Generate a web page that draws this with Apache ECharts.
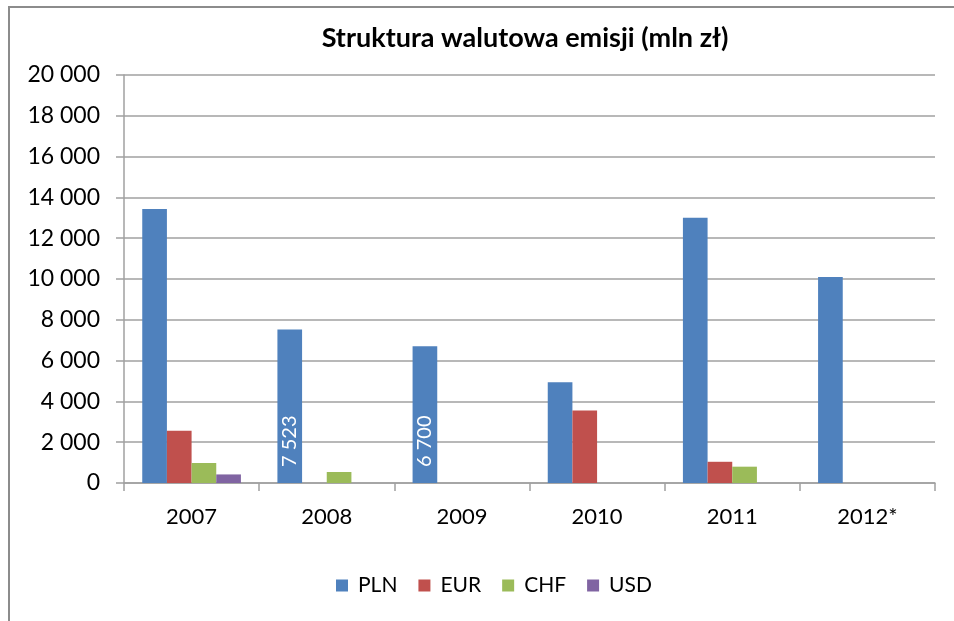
<!DOCTYPE html>
<html>
<head>
<meta charset="utf-8">
<script src="https://cdn.jsdelivr.net/npm/echarts@6/dist/echarts.min.js"></script>
<style>
  html, body { margin: 0; padding: 0; background: #ffffff; }
  #chart { width: 954px; height: 621px; }
</style>
</head>
<body>
<div id="chart"></div>
<script>
const years = ['2007', '2008', '2009', '2010', '2011', '2012*'];
const pln = [13430, 7523, 6700, 4940, 13000, 10100];
const eur = [2560, '-', '-', 3560, 1040, '-'];
const chf = [980, 540, '-', '-', 800, '-'];
const usd = [420, '-', '-', '-', '-', '-'];
const labelled = ['2008', '2009'];

function fmt(v) {
  return String(v).replace(/\B(?=(\d{3})+(?!\d))/g, ' ');
}

let font = 'Lato';

function plnData() {
  return pln.map((v, i) => {
    if (labelled.indexOf(years[i]) < 0) return v;
    return {
      value: v,
      label: {
        show: true,
        position: 'insideBottom',
        rotate: 90,
        align: 'left',
        verticalAlign: 'middle',
        distance: 16,
        color: '#ffffff',
        fontFamily: font,
        fontSize: 20,
        formatter: (p) => fmt(p.value)
      }
    };
  });
}

let chart = echarts.init(document.querySelector('#chart'), null, { renderer: 'canvas' });

let option = {
  backgroundColor: '#ffffff',
  animation: false,
  graphic: [{
    type: 'polyline',
    shape: { points: [[9, 640], [9, 7], [960, 7]] },
    style: { stroke: '#8c8c8c', lineWidth: 2, fill: null }
  }],
  title: {
    text: 'Struktura walutowa emisji (mln zł)',
    left: 520,
    textAlign: 'center',
    top: 20,
    textStyle: { fontFamily: font, fontWeight: 'bold', fontSize: 27, color: '#000000' }
  },
  color: ['#4f81bd', '#c0504d', '#9bbb59', '#8064a2'],
  legend: {
    left: 331,
    top: 570,
    itemWidth: 12,
    itemHeight: 12,
    itemGap: 21,
    icon: 'rect',
    textStyle: { fontFamily: font, fontSize: 21, color: '#000000', padding: [0, 0, 0, 5] },
    data: ['PLN', 'EUR', 'CHF', 'USD']
  },
  grid: { left: 124, right: 19, top: 75, bottom: 138 },
  xAxis: {
    type: 'category',
    data: years,
    axisLine: { lineStyle: { color: '#a0a0a0', width: 1.5 } },
    axisTick: { show: true, length: 8, alignWithLabel: false, lineStyle: { color: '#a0a0a0', width: 1.5 } },
    axisLabel: { fontFamily: font, fontSize: 22, color: '#000000', margin: 23 }
  },
  yAxis: {
    type: 'value',
    min: 0,
    max: 20000,
    interval: 2000,
    axisLine: { show: true, lineStyle: { color: '#a0a0a0', width: 1.5 } },
    axisTick: { show: true, length: 8, lineStyle: { color: '#a0a0a0', width: 1.5 } },
    splitLine: { lineStyle: { color: '#a0a0a0', width: 1.5 } },
    axisLabel: { fontFamily: font, fontSize: 23, color: '#000000', margin: 24, formatter: fmt }
  },
  series: [
    { name: 'PLN', type: 'bar', data: plnData(), barGap: '0%', barCategoryGap: '27%' },
    { name: 'EUR', type: 'bar', data: eur },
    { name: 'CHF', type: 'bar', data: chf },
    { name: 'USD', type: 'bar', data: usd }
  ]
};

chart.setOption(option);
</script>
</body>
</html>
